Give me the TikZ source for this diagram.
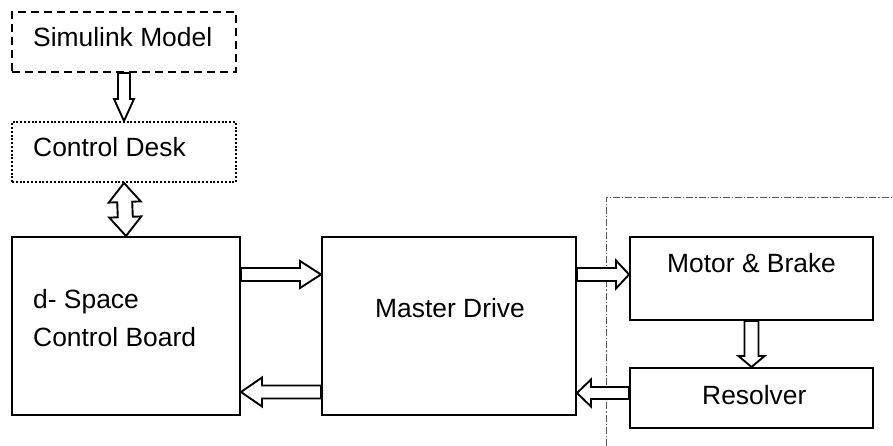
\documentclass[tikz,border=0pt]{standalone}
\usepackage{fontspec}
\setmainfont{Liberation Sans}
\usetikzlibrary{calc}
\newcommand{\harrow}[5]{%
  \draw[hollow] let \p1=(#1), \p2=(#2), \n1={atan2(\y2-\y1,\x2-\x1)}, \n2={veclen(\x2-\x1,\y2-\y1)} in
  {[shift={(\p1)}, rotate=\n1]
   (0pt,#3pt) -- ({\n2*1pt-#5pt},#3pt) -- ({\n2*1pt-#5pt},#4pt) -- ({\n2*1pt},0pt)
   -- ({\n2*1pt-#5pt},-#4pt) -- ({\n2*1pt-#5pt},-#3pt) -- (0pt,-#3pt) -- cycle};}
\newcommand{\hdarrow}[5]{%
  \draw[hollow] let \p1=(#1), \p2=(#2), \n1={atan2(\y2-\y1,\x2-\x1)}, \n2={veclen(\x2-\x1,\y2-\y1)} in
  {[shift={(\p1)}, rotate=\n1]
   (0pt,0pt) -- (#5pt,#4pt) -- (#5pt,#3pt) -- ({\n2*1pt-#5pt},#3pt) -- ({\n2*1pt-#5pt},#4pt) -- ({\n2*1pt},0pt)
   -- ({\n2*1pt-#5pt},-#4pt) -- ({\n2*1pt-#5pt},-#3pt) -- (#5pt,-#3pt) -- (#5pt,-#4pt) -- cycle};}
\tikzset{
  box/.style={draw, line width=2pt, rectangle, inner sep=0pt},
  hollow/.style={draw, line width=1.9pt, fill=white, line join=miter},
  lbl/.style={anchor=base west, inner sep=0pt, font=\fontsize{26.4}{38}\selectfont},
  border/.style={line width=0.8pt, gray!70!black, dash pattern=on 7pt off 2pt on 1.2pt off 2pt}
}
\begin{document}
\begin{tikzpicture}[x=1pt,y=-1pt]
\useasboundingbox (0,0) rectangle (893,446);
% boundary of plant
\coordinate (bl) at (606,446);
\coordinate (tl) at (606,197);
\coordinate (tr) at (893,197);
\draw[border] (bl) -- (tl) -- (tr);
% boxes
\node[box, dash pattern=on 8pt off 5pt, minimum width=224pt, minimum height=60pt] (sim) at (124,42) {};
\node[box, dash pattern=on 2pt off 1.8pt, minimum width=224pt, minimum height=60pt] (cd) at (124,152) {};
\node[box, minimum width=228pt, minimum height=178pt] (ds) at (126,326) {};
\node[box, minimum width=254pt, minimum height=178pt] (md) at (449,326) {};
\node[box, minimum width=243pt, minimum height=83pt] (mb) at (751.5,278.5) {};
\node[box, minimum width=243pt, minimum height=60pt] (rs) at (751.5,398) {};
% texts
\node[lbl] (tsim) at (33,47) {Simulink Model};
\node[lbl] (tcd) at (33,157) {Control Desk};
\node[lbl] (tds1) at (33,308) {d- Space};
\node[lbl] (tds2) at (33,346) {Control Board};
\node[lbl] (tmd) at (375,317) {Master Drive};
\node[lbl] (tmb) at (667,272) {Motor \& Brake};
\node[lbl] (trs) at (702,404) {Resolver};
% arrows
\harrow{sim.south}{cd.north}{6}{10}{22}
\hdarrow{cd.south}{ds.north}{7.5}{16}{19}
\harrow{ds.east |- 0,274.5}{md.west |- 0,274.5}{6.5}{13.5}{21}
\harrow{md.west |- 0,392}{ds.east |- 0,392}{6.5}{14.5}{21}
\harrow{md.east |- 0,274.5}{mb.west |- 0,274.5}{6.5}{14}{13}
\harrow{mb.south}{rs.north}{7}{13}{11}
\harrow{rs.west |- 0,393}{md.east |- 0,393}{6}{13.5}{14}
\end{tikzpicture}
\end{document}
